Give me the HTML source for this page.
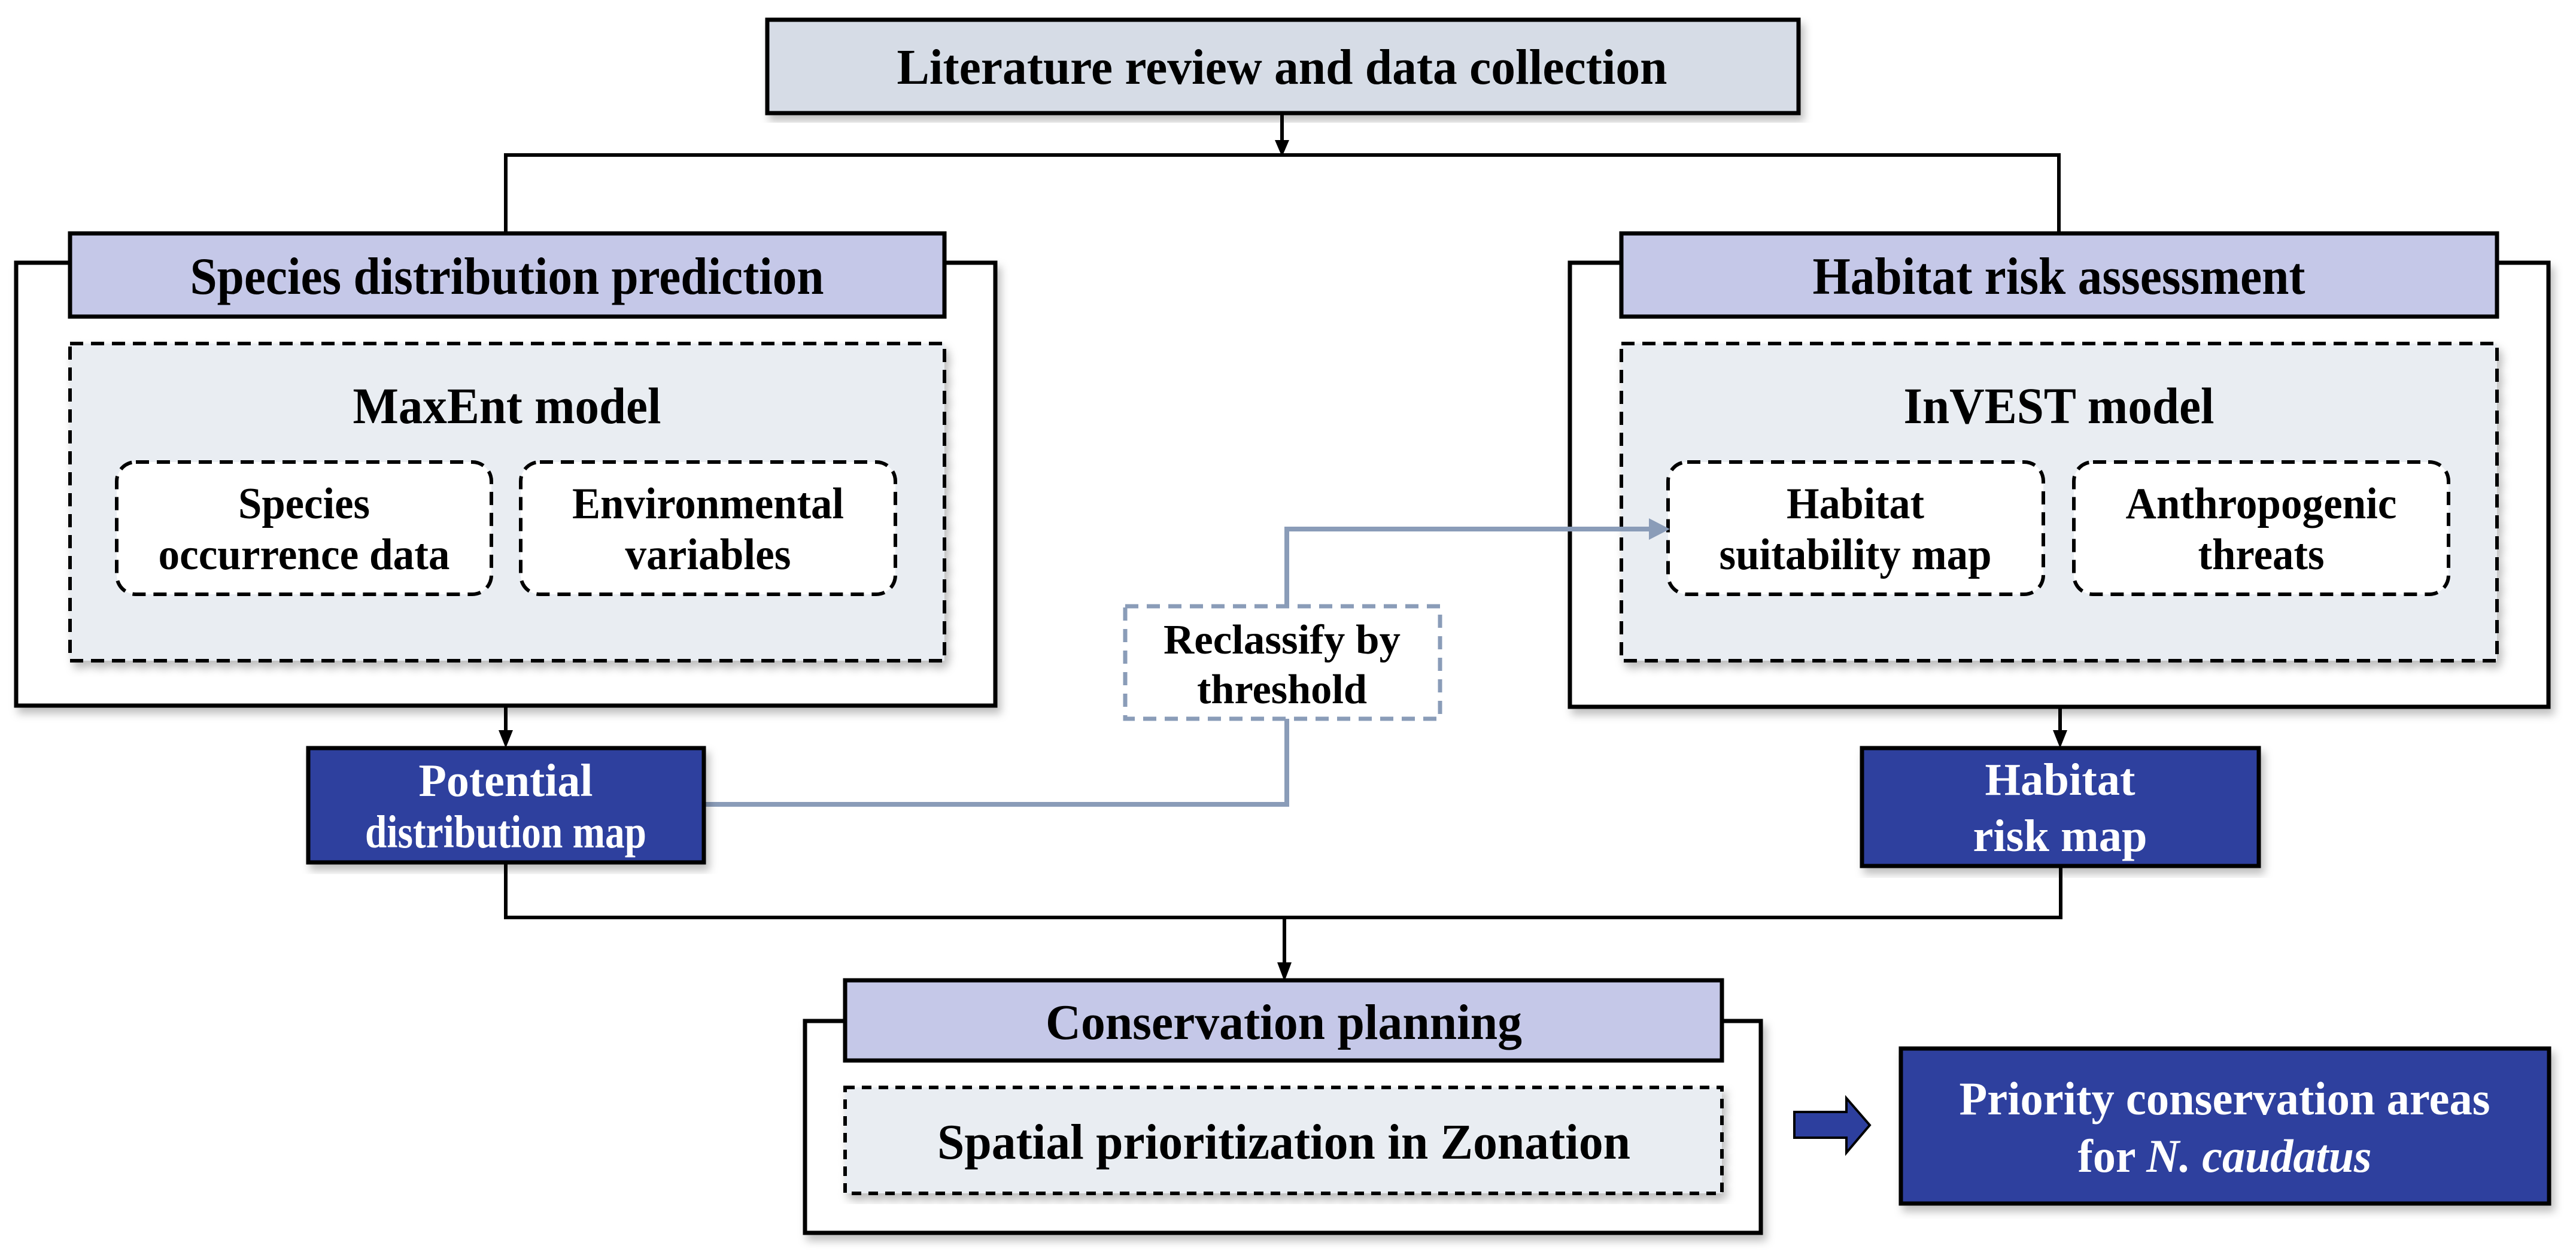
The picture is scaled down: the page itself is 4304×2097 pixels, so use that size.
<!DOCTYPE html>
<html><head><meta charset="utf-8"><style>html,body{margin:0;padding:0;background:#fff}svg{display:block}</style></head>
<body>
<svg width="4304" height="2097" viewBox="0 0 4304 2097" xmlns="http://www.w3.org/2000/svg" font-family="Liberation Serif, serif" font-weight="bold">
<defs>
<filter id="sh" x="-5%" y="-5%" width="112%" height="115%"><feDropShadow dx="6" dy="10" stdDeviation="7" flood-color="#000" flood-opacity="0.25"/></filter>
</defs>
<g stroke="#000" stroke-width="6" fill="none">
<line x1="2142" y1="189" x2="2142" y2="238"/>
<polyline points="845,390 845,259 3440,259 3440,390"/>
<line x1="845" y1="1179" x2="845" y2="1228"/>
<line x1="3442" y1="1181" x2="3442" y2="1228"/>
<polyline points="845,1441 845,1533 3443,1533 3443,1447"/>
<line x1="2146" y1="1533" x2="2146" y2="1615"/>
</g>
<g fill="#000">
<path d="M2130,234 L2154,234 L2142,262z"/>
<path d="M833,1220 L857,1220 L845,1250z"/>
<path d="M3430,1220 L3454,1220 L3442,1250z"/>
<path d="M2134,1608 L2158,1608 L2146,1640z"/>
</g>
<rect x="1282" y="33" width="1723" height="156" fill="#d6dce6" stroke="#000" stroke-width="7" filter="url(#sh)"/>
<text x="2142" y="140" font-size="84" text-anchor="middle" textLength="1287" lengthAdjust="spacingAndGlyphs">Literature review and data collection</text>
<rect x="27" y="439" width="1636" height="740" fill="#fff" stroke="#000" stroke-width="7" filter="url(#sh)"/>
<rect x="117" y="390" width="1461" height="139" fill="#c5c8e8" stroke="#000" stroke-width="7"/>
<text x="847" y="491" font-size="88" text-anchor="middle" textLength="1059" lengthAdjust="spacingAndGlyphs">Species distribution prediction</text>
<rect x="117" y="574" width="1461" height="530" fill="#e9edf2" stroke="#000" stroke-width="6" stroke-dasharray="22 13" filter="url(#sh)"/>
<text x="847" y="707" font-size="86" text-anchor="middle" textLength="515" lengthAdjust="spacingAndGlyphs">MaxEnt model</text>
<rect x="195" y="772" width="626" height="221" rx="32" fill="#fff" stroke="#000" stroke-width="6" stroke-dasharray="22 13"/>
<rect x="870" y="772" width="626" height="221" rx="32" fill="#fff" stroke="#000" stroke-width="6" stroke-dasharray="22 13"/>
<g font-size="74" text-anchor="middle">
<text x="508" y="866" textLength="220" lengthAdjust="spacingAndGlyphs">Species</text>
<text x="508" y="951" textLength="487" lengthAdjust="spacingAndGlyphs">occurrence data</text>
<text x="1183" y="866" textLength="454" lengthAdjust="spacingAndGlyphs">Environmental</text>
<text x="1183" y="951" textLength="277" lengthAdjust="spacingAndGlyphs">variables</text>
</g>
<rect x="2623" y="439" width="1635" height="742" fill="#fff" stroke="#000" stroke-width="7" filter="url(#sh)"/>
<rect x="2709" y="390" width="1463" height="139" fill="#c5c8e8" stroke="#000" stroke-width="7"/>
<text x="3440" y="491" font-size="88" text-anchor="middle" textLength="823" lengthAdjust="spacingAndGlyphs">Habitat risk assessment</text>
<rect x="2709" y="574" width="1463" height="530" fill="#e9edf2" stroke="#000" stroke-width="6" stroke-dasharray="22 13" filter="url(#sh)"/>
<text x="3440" y="707" font-size="86" text-anchor="middle" textLength="519" lengthAdjust="spacingAndGlyphs">InVEST model</text>
<rect x="2787" y="772" width="627" height="221" rx="32" fill="#fff" stroke="#000" stroke-width="6" stroke-dasharray="22 13"/>
<rect x="3465" y="772" width="626" height="221" rx="32" fill="#fff" stroke="#000" stroke-width="6" stroke-dasharray="22 13"/>
<g font-size="74" text-anchor="middle">
<text x="3100" y="866" textLength="230" lengthAdjust="spacingAndGlyphs">Habitat</text>
<text x="3100" y="951" textLength="455" lengthAdjust="spacingAndGlyphs">suitability map</text>
<text x="3778" y="866" textLength="453" lengthAdjust="spacingAndGlyphs">Anthropogenic</text>
<text x="3778" y="951" textLength="211" lengthAdjust="spacingAndGlyphs">threats</text>
</g>
<g stroke="#8a9cb8" stroke-width="8" fill="none">
<polyline points="1176,1344 2150,1344 2150,1201"/>
<polyline points="2150,1013 2150,884 2760,884"/>
</g>
<path d="M2755,866 L2790,884 L2755,902z" fill="#8a9cb8"/>
<rect x="1880" y="1013" width="526" height="188" fill="#fff" stroke="#8a9cb8" stroke-width="7" stroke-dasharray="22 14"/>
<g font-size="70" text-anchor="middle">
<text x="2142" y="1092" textLength="396" lengthAdjust="spacingAndGlyphs">Reclassify by</text>
<text x="2142" y="1175" textLength="284" lengthAdjust="spacingAndGlyphs">threshold</text>
</g>
<rect x="515" y="1250" width="661" height="191" fill="#2d3f9e" stroke="#000" stroke-width="7" filter="url(#sh)"/>
<g font-size="77" text-anchor="middle" fill="#fff">
<text x="845" y="1330" textLength="291" lengthAdjust="spacingAndGlyphs">Potential</text>
<text x="845" y="1416" textLength="470" lengthAdjust="spacingAndGlyphs">distribution map</text>
</g>
<rect x="3111" y="1250" width="663" height="197" fill="#2d3f9e" stroke="#000" stroke-width="7" filter="url(#sh)"/>
<g font-size="76" text-anchor="middle" fill="#fff">
<text x="3442" y="1328" textLength="251" lengthAdjust="spacingAndGlyphs">Habitat</text>
<text x="3442" y="1422" textLength="291" lengthAdjust="spacingAndGlyphs">risk map</text>
</g>
<rect x="1345" y="1706" width="1597" height="354" fill="#fff" stroke="#000" stroke-width="7" filter="url(#sh)"/>
<rect x="1412" y="1638" width="1465" height="134" fill="#c5c8e8" stroke="#000" stroke-width="7"/>
<text x="2145" y="1736" font-size="84" text-anchor="middle" textLength="796" lengthAdjust="spacingAndGlyphs">Conservation planning</text>
<rect x="1412" y="1817" width="1465" height="177" fill="#e9edf2" stroke="#000" stroke-width="6" stroke-dasharray="16 12" filter="url(#sh)"/>
<text x="2145" y="1936" font-size="84" text-anchor="middle" textLength="1158" lengthAdjust="spacingAndGlyphs">Spatial prioritization in Zonation</text>
<path d="M2998,1858 L3085,1858 L3085,1835 L3124,1880 L3085,1926 L3085,1901 L2998,1901z" fill="#2d3f9e" stroke="#000" stroke-width="4"/>
<rect x="3176" y="1752" width="1083" height="259" fill="#2d3f9e" stroke="#000" stroke-width="7" filter="url(#sh)"/>
<g font-size="78" text-anchor="middle" fill="#fff">
<text x="3717" y="1862" textLength="887" lengthAdjust="spacingAndGlyphs">Priority conservation areas</text>
<text x="3717" y="1958" textLength="491" lengthAdjust="spacingAndGlyphs">for <tspan font-style="italic">N. caudatus</tspan></text>
</g>
</svg>
</body></html>
